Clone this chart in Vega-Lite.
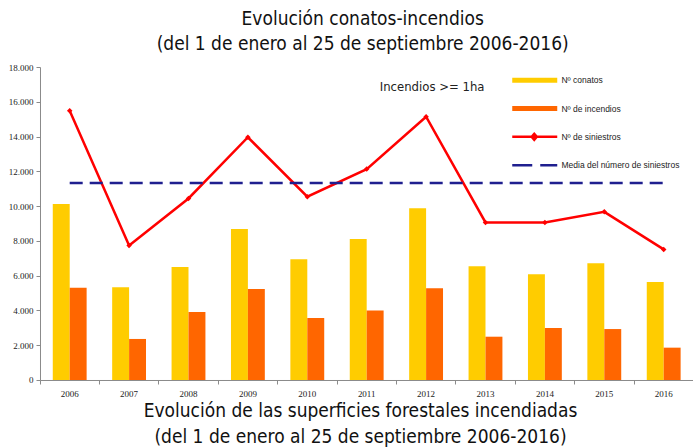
{
  "$schema": "https://vega.github.io/schema/vega-lite/v6.json",
  "width": 653.4,
  "height": 313,
  "autosize": {"type": "none"},
  "padding": {"left": 40, "top": 67, "right": 0, "bottom": 68},
  "background": "white",
  "title": {
    "text": ["Evolución conatos-incendios", "(del 1 de enero al 25 de septiembre 2006-2016)"],
    "font": "Liberation Sans Narrow, DejaVu Sans Condensed, sans-serif",
    "fontSize": 19,
    "fontWeight": "normal",
    "color": "#111111",
    "anchor": "middle",
    "lineHeight": 25,
    "offset": 9,
    "dx": -4
  },
  "data": {
    "values": [
      {"year": "2006", "conatos": 10120, "incendios": 5310, "siniestros": 15480, "media": 11330},
      {"year": "2007", "conatos": 5330, "incendios": 2360, "siniestros": 7740, "media": 11330},
      {"year": "2008", "conatos": 6500, "incendios": 3910, "siniestros": 10440, "media": 11330},
      {"year": "2009", "conatos": 8680, "incendios": 5230, "siniestros": 13960, "media": 11330},
      {"year": "2010", "conatos": 6940, "incendios": 3570, "siniestros": 10540, "media": 11330},
      {"year": "2011", "conatos": 8110, "incendios": 3990, "siniestros": 12130, "media": 11330},
      {"year": "2012", "conatos": 9870, "incendios": 5270, "siniestros": 15140, "media": 11330},
      {"year": "2013", "conatos": 6540, "incendios": 2490, "siniestros": 9060, "media": 11330},
      {"year": "2014", "conatos": 6080, "incendios": 2990, "siniestros": 9060, "media": 11330},
      {"year": "2015", "conatos": 6710, "incendios": 2930, "siniestros": 9670, "media": 11330},
      {"year": "2016", "conatos": 5640, "incendios": 1860, "siniestros": 7510, "media": 11330}
    ]
  },
  "encoding": {
    "x": {
      "field": "year",
      "type": "nominal",
      "scale": {"paddingInner": 0.43, "paddingOuter": 0.215},
      "axis": {
        "labelAngle": 0,
        "labelFont": "Liberation Serif",
        "labelFontSize": 9,
        "labelColor": "#222222",
        "labelPadding": 6,
        "labelOverlap": false,
        "domainColor": "#8a8a8a",
        "tickColor": "#8a8a8a",
        "tickSize": 4,
        "bandPosition": -0.377,
        "title": ["Evolución de las superficies forestales incendiadas", "(del 1 de enero al 25 de septiembre 2006-2016)"],
        "titleFont": "Liberation Sans Narrow, DejaVu Sans Condensed, sans-serif",
        "titleFontSize": 19,
        "titleFontWeight": "normal",
        "titleColor": "#111111",
        "titleLineHeight": 26,
        "titlePadding": 3,
        "titleX": 320
      }
    }
  },
  "layer": [
    {
      "transform": [
        {"fold": ["conatos", "incendios"], "as": ["k", "v"]},
        {"lookup": "k", "from": {"data": {"values": [{"k": "conatos", "serie": "Nº conatos"}, {"k": "incendios", "serie": "Nº de incendios"}]}, "key": "k", "fields": ["serie"]}}
      ],
      "mark": {"type": "bar"},
      "encoding": {
        "xOffset": {"field": "serie", "type": "nominal", "scale": {"domain": ["Nº conatos", "Nº de incendios"], "paddingInner": 0, "paddingOuter": 0}},
        "y": {
          "field": "v",
          "type": "quantitative",
          "scale": {"domain": [0, 18000], "nice": false},
          "axis": {
            "values": [0, 2000, 4000, 6000, 8000, 10000, 12000, 14000, 16000, 18000],
            "tickCount": 10,
            "labelExpr": "replace(format(datum.value, ',d'), ',', '.')",
            "labelFont": "Liberation Serif",
            "labelOverlap": false,
            "title": null
          }
        },
        "color": {
          "field": "serie",
          "type": "nominal",
          "scale": {
            "domain": ["Nº conatos", "Nº de incendios", "Nº de siniestros", "Media del número de siniestros"],
            "range": ["#FFCC00", "#FF6600", "#FF0000", "#1F1F8F"]
          },
          "legend": {
            "orient": "none",
            "legendX": 503,
            "legendY": 9,
            "padding": 0,
            "title": null,
            "gridAlign": "all",
            "symbolType": "M-3.5,0H1",
            "symbolSize": 400,
            "symbolStrokeWidth": 2.5,
            "labelFont": "Liberation Sans",
            "labelFontSize": 8.5,
            "labelColor": "#222222",
            "labelOffset": 10,
            "rowPadding": 7.3,
            "encode": {
              "symbols": {
                "update": {
                  "shape": {"signal": "datum.label == 'Nº de siniestros' ? 'M-3.5,0H1M-1.3,-0.3L-1.05,0L-1.3,0.3L-1.55,0Z' : 'M-3.5,0H1'"},
                  "stroke": {"scale": "color", "field": "value"},
                  "fill": {"scale": "color", "field": "value"},
                  "strokeWidth": {"signal": "(datum.label == 'Nº conatos' || datum.label == 'Nº de incendios') ? 5 : 2.5"},
                  "strokeDash": {"signal": "datum.label == 'Media del número de siniestros' ? [20, 8] : [1, 0]"}
                }
              }
            }
          }
        }
      }
    },
    {
      "mark": {"type": "line", "strokeWidth": 2.5, "point": {"filled": true, "shape": "diamond", "size": 30}},
      "encoding": {
        "y": {
          "field": "siniestros",
          "type": "quantitative",
          "axis": {
            "values": [0, 2000, 4000, 6000, 8000, 10000, 12000, 14000, 16000, 18000],
            "tickCount": 10,
            "labelExpr": "replace(format(datum.value, ',d'), ',', '.')",
            "labelFont": "Liberation Serif",
            "labelOverlap": false,
            "title": null
          }
        },
        "color": {"datum": "Nº de siniestros"}
      }
    },
    {
      "mark": {"type": "line", "strokeWidth": 2.5, "strokeDash": [13, 7]},
      "encoding": {
        "y": {
          "field": "media",
          "type": "quantitative",
          "axis": {
            "values": [0, 2000, 4000, 6000, 8000, 10000, 12000, 14000, 16000, 18000],
            "tickCount": 10,
            "labelExpr": "replace(format(datum.value, ',d'), ',', '.')",
            "labelFont": "Liberation Serif",
            "labelOverlap": false,
            "title": null
          }
        },
        "color": {"datum": "Media del número de siniestros"}
      }
    },
    {
      "data": {"values": [{"t": "Incendios >= 1ha"}]},
      "mark": {"type": "text", "font": "Liberation Sans Narrow, DejaVu Sans Condensed, sans-serif", "fontSize": 13, "color": "#222222", "dx": 6},
      "encoding": {
        "x": {"datum": "2012"},
        "y": {
          "datum": 16850,
          "axis": {
            "values": [0, 2000, 4000, 6000, 8000, 10000, 12000, 14000, 16000, 18000],
            "tickCount": 10,
            "labelExpr": "replace(format(datum.value, ',d'), ',', '.')",
            "labelFont": "Liberation Serif",
            "labelOverlap": false,
            "title": null
          }
        },
        "text": {"field": "t"}
      }
    }
  ],
  "config": {
    "view": {"stroke": null},
    "axisY": {
      "labelFont": "Liberation Serif",
      "labelFontSize": 9,
      "labelColor": "#222222",
      "labelPadding": 3,
      "labelOverlap": false,
      "domainColor": "#8a8a8a",
      "tickColor": "#8a8a8a",
      "tickSize": 4,
      "grid": false
    }
  }
}
